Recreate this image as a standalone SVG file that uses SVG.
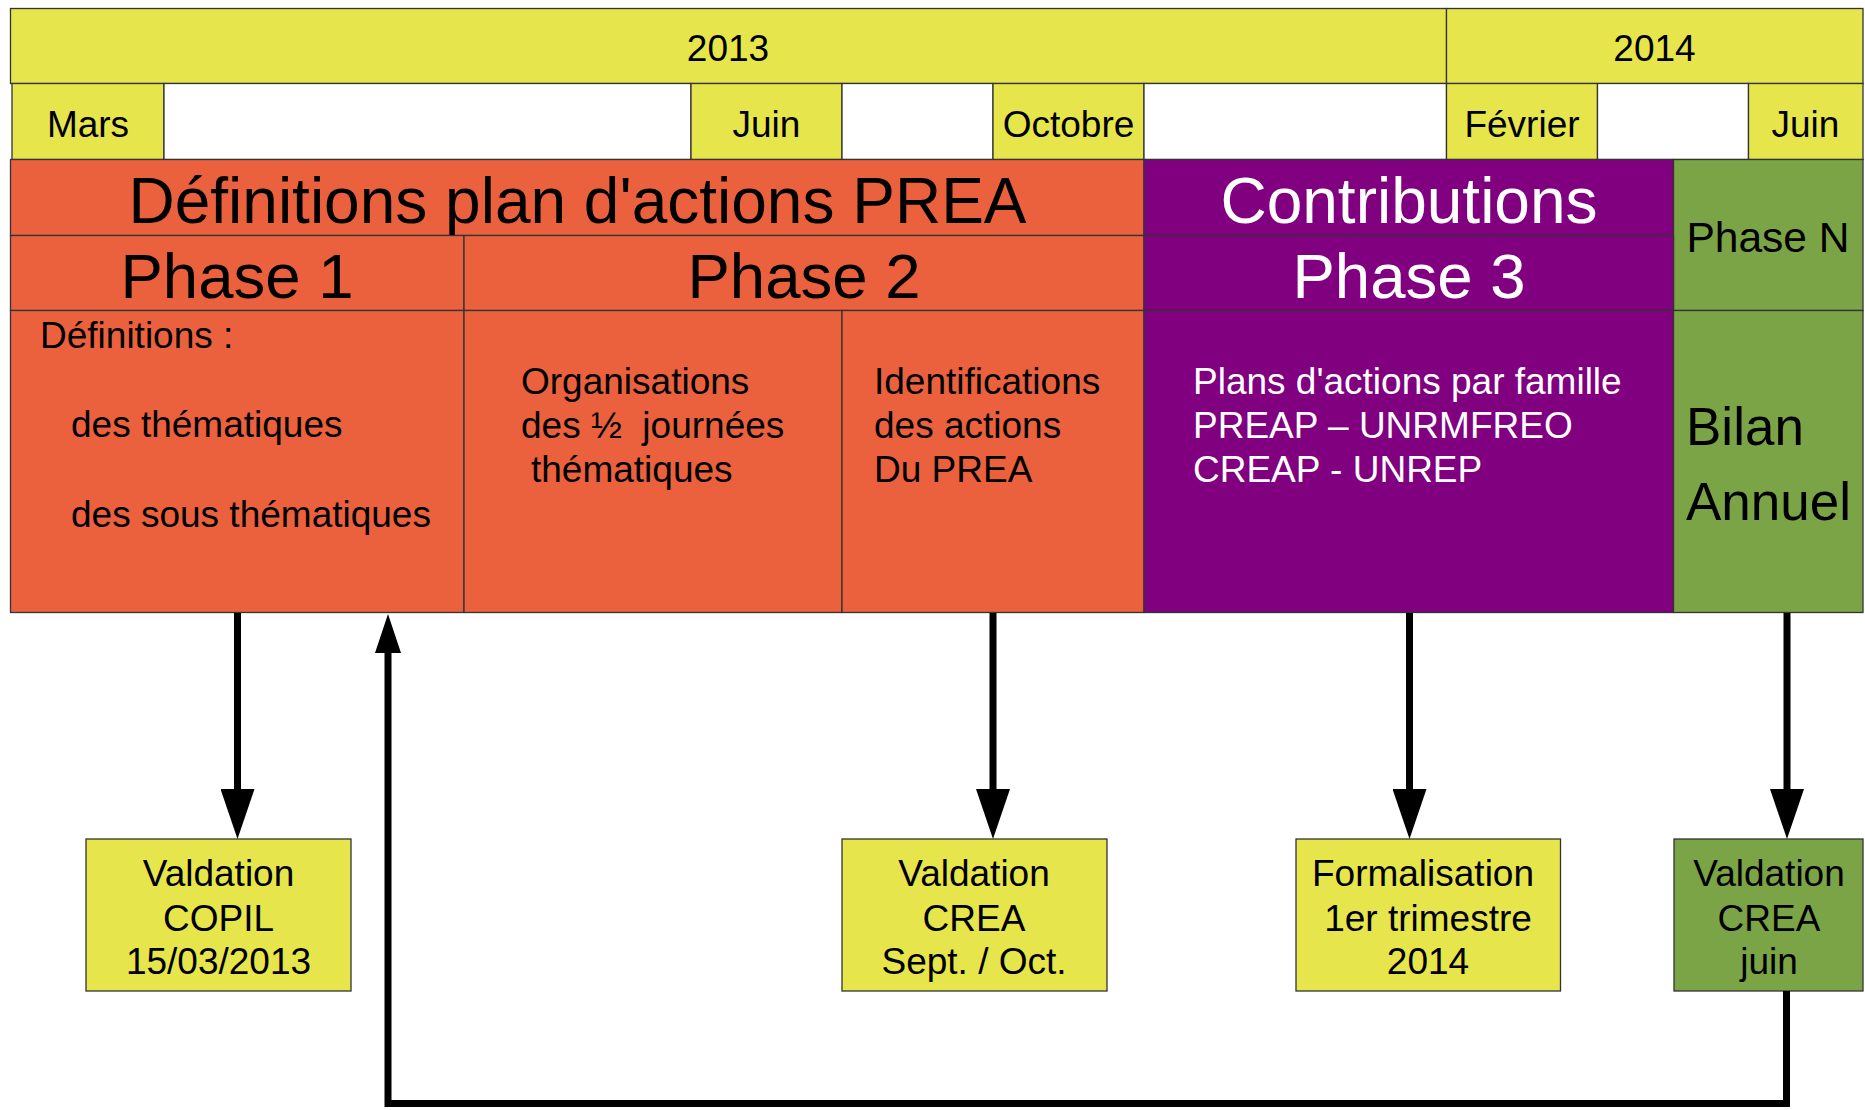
<svg xmlns="http://www.w3.org/2000/svg" width="1865" height="1110" viewBox="0 0 1865 1110">
<style>
  text { font-family: "Liberation Sans", Arial, sans-serif; fill: #000; }
  .c { text-anchor: middle; }
  .f37 { font-size: 37px; }
  .f63 { font-size: 63.5px; }
  .f64 { font-size: 64px; }
  .w { fill: #fff; }
  .cell { stroke: #333; stroke-width: 1.3; }
  .yel { fill: #E6E64C; }
  .wht { fill: #fff; }
  .org { fill: #EB613E; }
  .pur { fill: #800080; }
  .grn { fill: #7BA446; }
  .conn { fill: none; stroke: #000; stroke-width: 7; stroke-linejoin: miter; }
</style>
<defs>
  <marker id="ahDown" markerUnits="userSpaceOnUse" markerWidth="50" markerHeight="34" refX="0" refY="17" orient="auto" viewBox="0 0 50 34">
    <path d="M0,0 L50,17 L0,34 Z" fill="#000"/>
  </marker>
  <marker id="ahUp" markerUnits="userSpaceOnUse" markerWidth="39" markerHeight="26" refX="0" refY="13" orient="auto" viewBox="0 0 39 26">
    <path d="M0,0 L39,13 L0,26 Z" fill="#000"/>
  </marker>
</defs>

<g id="year-2013"><rect class="cell yel" x="10.5" y="8.5" width="1436" height="75"/><text class="c f37" x="728" y="61">2013</text></g>
<g id="year-2014"><rect class="cell yel" x="1446.5" y="8.5" width="416.5" height="75"/><text class="c f37" x="1654.5" y="61">2014</text></g>

<g id="month-mars"><rect class="cell yel" x="12" y="83.5" width="152" height="76"/><text class="c f37" x="88" y="137">Mars</text></g>
<g id="month-blank-1"><rect class="cell wht" x="164" y="83.5" width="527" height="76"/></g>
<g id="month-juin-2013"><rect class="cell yel" x="691" y="83.5" width="151" height="76"/><text class="c f37" x="766.5" y="137">Juin</text></g>
<g id="month-blank-2"><rect class="cell wht" x="842" y="83.5" width="151" height="76"/></g>
<g id="month-octobre"><rect class="cell yel" x="993" y="83.5" width="151" height="76"/><text class="c f37" x="1068.5" y="137">Octobre</text></g>
<g id="month-blank-3"><rect class="cell wht" x="1144" y="83.5" width="302.5" height="76"/></g>
<g id="month-fevrier"><rect class="cell yel" x="1446.5" y="83.5" width="151" height="76"/><text class="c f37" x="1522" y="137">Février</text></g>
<g id="month-blank-4"><rect class="cell wht" x="1597.5" y="83.5" width="151" height="76"/></g>
<g id="month-juin-2014"><rect class="cell yel" x="1748.5" y="83.5" width="114.5" height="76"/><text class="c f37" x="1805.5" y="137">Juin</text></g>

<g id="title-definitions"><rect class="cell org" x="10.5" y="159.5" width="1133.5" height="76"/><text class="c f64" x="577.5" y="222.5">Définitions plan d'actions PREA</text></g>
<g id="title-contributions"><rect class="cell pur" x="1144" y="159.5" width="529.5" height="76"/><text class="c f64 w" x="1409" y="222.5">Contributions</text></g>
<g id="phase-n"><rect class="cell grn" x="1673.5" y="159.5" width="189.5" height="151"/><text class="c" style="font-size:42.5px" x="1768" y="251.5">Phase N</text></g>

<g id="phase-1"><rect class="cell org" x="10.5" y="235.5" width="453.5" height="75"/><text class="c f63" x="237" y="298">Phase 1</text></g>
<g id="phase-2"><rect class="cell org" x="464" y="235.5" width="680" height="75"/><text class="c f63" x="804" y="298">Phase 2</text></g>
<g id="phase-3"><rect class="cell pur" x="1144" y="235.5" width="529.5" height="75"/><text class="c f63 w" x="1409" y="298">Phase 3</text></g>

<g id="content-definitions"><rect class="cell org" x="10.5" y="310.5" width="453.5" height="302"/>
  <text class="f37" x="40" y="348">Définitions :</text>
  <text class="f37" x="71" y="437">des thématiques</text>
  <text class="f37" x="71" y="527">des sous thématiques</text>
</g>
<g id="content-organisations"><rect class="cell org" x="464" y="310.5" width="378" height="302"/>
  <text class="f37" x="521" y="394">Organisations</text>
  <text class="f37" x="521" y="438" xml:space="preserve">des ½  journées</text>
  <text class="f37" x="531" y="482">thématiques</text>
</g>
<g id="content-identifications"><rect class="cell org" x="842" y="310.5" width="302" height="302"/>
  <text class="f37" x="874" y="394">Identifications</text>
  <text class="f37" x="874" y="438">des actions</text>
  <text class="f37" x="874" y="482">Du PREA</text>
</g>
<g id="content-plans"><rect class="cell pur" x="1144" y="310.5" width="529.5" height="302"/>
  <text class="f37 w" x="1193" y="394">Plans d'actions par famille</text>
  <text class="f37 w" x="1193" y="438">PREAP – UNRMFREO</text>
  <text class="f37 w" x="1193" y="482">CREAP - UNREP</text>
</g>
<g id="content-bilan"><rect class="cell grn" x="1673.5" y="310.5" width="189.5" height="302"/>
  <text style="font-size:53px" x="1686" y="445">Bilan</text>
  <text style="font-size:53px" x="1686" y="520">Annuel</text>
</g>

<g id="box-copil"><rect class="cell yel" x="86" y="839" width="265" height="152"/>
  <text class="c f37" x="218.5" y="886">Valdation</text>
  <text class="c f37" x="218.5" y="931">COPIL</text>
  <text class="c f37" x="218.5" y="974">15/03/2013</text>
</g>
<g id="box-crea"><rect class="cell yel" x="842" y="839" width="265" height="152"/>
  <text class="c f37" x="974" y="886">Valdation</text>
  <text class="c f37" x="974" y="931">CREA</text>
  <text class="c f37" x="974" y="974">Sept. / Oct.</text>
</g>
<g id="box-formalisation"><rect class="cell yel" x="1296" y="839" width="264.5" height="152"/>
  <text class="c f37" x="1423" y="886">Formalisation</text>
  <text class="c f37" x="1428" y="931">1er trimestre</text>
  <text class="c f37" x="1428" y="974">2014</text>
</g>
<g id="box-juin"><rect class="cell grn" x="1674" y="839" width="189" height="152"/>
  <text class="c f37" x="1769" y="886">Valdation</text>
  <text class="c f37" x="1769" y="931">CREA</text>
  <text class="c f37" x="1769" y="974">juin</text>
</g>

<g id="connectors">
  <path class="conn" d="M237.5,613 V789" marker-end="url(#ahDown)"/>
  <path class="conn" d="M993,613 V789" marker-end="url(#ahDown)"/>
  <path class="conn" d="M1409.5,613 V789" marker-end="url(#ahDown)"/>
  <path class="conn" d="M1787,613 V789" marker-end="url(#ahDown)"/>
  <path class="conn" d="M1786.5,991 V1103.5 H388 V653" marker-end="url(#ahUp)"/>
</g>
</svg>
